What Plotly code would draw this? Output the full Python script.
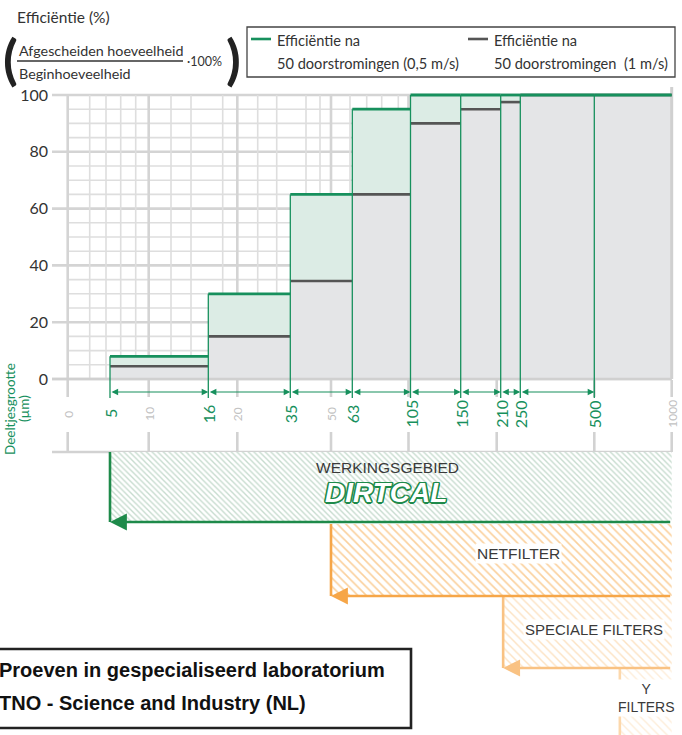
import numpy as np
import plotly.graph_objects as go

# ---------------- data ----------------
bin_edges = [5, 16, 35, 63, 105, 150, 210, 250, 500, 1000]          # particle size (µm)
eff_05 = [8, 30, 65, 95, 100, 100, 100, 100, 100]                   # 0,5 m/s
eff_1 = [4.5, 15, 34.5, 65, 90, 95, 97.5, 100, 100]                 # 1 m/s
y_ticks = [0, 20, 40, 60, 80, 100]
green_ticks = [5, 16, 35, 63, 105, 150, 210, 250, 500]
gray_labels = [0, 10, 20, 50, 1000]
gray_marks = [0, 10, 20, 50, 100, 200, 500, 1000]
minor_grid = [2, 4, 6, 8, 12, 14, 18, 25, 30, 40, 45, 60, 70, 80, 90]
major_grid = [0, 10, 20, 50, 100]
filter_names = ["DIRTCAL", "NETFILTER", "SPECIALE FILTERS", "Y FILTERS"]
filter_start = [5, 50, 215, 665]
filter_end = [1000, 1000, 1000, 1000]

# ---------------- layout / scale ----------------
W, H = 682, 735
# hand-drawn (non-uniform) size axis of the original: value -> horizontal unit
SCALE_VAL = [0, 2, 4, 5, 6, 8, 10, 12, 14, 16, 18, 20, 25, 30, 35, 40, 45, 50,
             60, 63, 70, 80, 90, 100, 105, 150, 200, 210, 250, 500, 1000]
SCALE_POS = [67.7, 89.7, 106, 110, 120.7, 135.7, 148.7, 171, 191, 208.3, 222.7,
             237.3, 257.7, 276.7, 290.3, 306, 320, 331, 350, 352.3, 366.7, 381.7,
             398.3, 408.5, 410.5, 460.7, 496.7, 500.7, 520.3, 594.3, 671.7]


def ux(v):
    return float(np.interp(v, SCALE_VAL, SCALE_POS))


Y0, Y100 = 379.0, 95.0
K = (Y0 - Y100) / 100.0


def eff_of(px):
    return (Y0 - px) / K


GREEN = "#17905d"
GREEN_FILL = "#dcece5"
GRAY_FILL = "#e4e5e7"
GRAY_LINE = "#555555"
GRID = "#dedede"
GRID_MAJ = "#d4d4d4"
TXT = "#333333"
FONT = "Lato"

fig = go.Figure()
shapes = []
ann = []

# grid
for v in range(0, 101, 5):
    major = v % 20 == 0
    shapes.append(dict(type="line", xref="x", yref="y", layer="below",
                       x0=52 if major else ux(0), x1=ux(1000), y0=v, y1=v,
                       line=dict(color=GRID_MAJ if major else GRID, width=2.6 if major else 1.6)))
for v in minor_grid:
    shapes.append(dict(type="line", xref="x", yref="y", layer="below",
                       x0=ux(v), x1=ux(v), y0=0, y1=100, line=dict(color=GRID, width=1.6)))
for v in major_grid:
    shapes.append(dict(type="line", xref="x", yref="y", layer="below",
                       x0=ux(v), x1=ux(v), y0=0, y1=100, line=dict(color=GRID_MAJ, width=2.6)))

# tick marks under the chart
for v in gray_marks:
    for a, b in [(380, 397), (432, 452)]:
        shapes.append(dict(type="line", xref="x", yref="y2", layer="below",
                           x0=ux(v), x1=ux(v), y0=a, y1=b, line=dict(color="#d2d2d2", width=2.6)))
shapes.append(dict(type="line", xref="x", yref="y2", layer="below",
                   x0=52, x1=ux(1000), y0=452, y1=452, line=dict(color="#d2d2d2", width=2.6)))

# step fills
xs = [ux(e) for e in bin_edges]
fig.add_trace(go.Scatter(x=xs, y=eff_1 + [eff_1[-1]], mode="lines", line=dict(width=0, shape="hv"),
                         fill="tozeroy", fillcolor=GRAY_FILL, hoverinfo="skip", showlegend=False))
fig.add_trace(go.Scatter(x=xs, y=eff_05 + [eff_05[-1]], mode="lines", line=dict(width=0, shape="hv"),
                         fill="tonexty", fillcolor=GREEN_FILL, hoverinfo="skip", showlegend=False))

# baseline and right border
fig.add_trace(go.Scatter(x=[52, ux(1000)], y=[0, 0], mode="lines", line=dict(color="#d0d0d0", width=2.6),
                         hoverinfo="skip", showlegend=False))
fig.add_trace(go.Scatter(x=[ux(1000), ux(1000)], y=[0, eff_of(87)], mode="lines",
                         line=dict(color="#d0d0d0", width=3), hoverinfo="skip", showlegend=False))

# horizontal step lines
gx, gy = [], []
for i, v in enumerate(eff_1):
    gx += [ux(bin_edges[i]), ux(bin_edges[i + 1]), None]
    gy += [v, v, None]
fig.add_trace(go.Scatter(x=gx, y=gy, mode="lines", line=dict(color=GRAY_LINE, width=2.6),
                         hoverinfo="skip", showlegend=False))

# vertical green boundary lines
vx, vy = [], []
low = eff_of(398)
for i, e in enumerate(bin_edges[:-1]):
    top = max(eff_05[i], eff_05[i - 1] if i > 0 else 0)
    vx += [ux(e), ux(e), None]
    vy += [top, low, None]
fig.add_trace(go.Scatter(x=vx, y=vy, mode="lines", line=dict(color=GREEN, width=1.3),
                         hoverinfo="skip", showlegend=False))

hx, hy = [], []
for i, v in enumerate(eff_05):
    hx += [ux(bin_edges[i]), ux(bin_edges[i + 1]), None]
    hy += [v, v, None]
fig.add_trace(go.Scatter(x=hx, y=hy, mode="lines", line=dict(color=GREEN, width=2.8),
                         hoverinfo="skip", showlegend=False))

# double arrows between boundaries
ya = eff_of(392)
for a, b in zip(bin_edges[:-2], bin_edges[1:-1]):
    ann.append(dict(x=ux(b), y=ya, ax=ux(a), ay=ya, xref="x", yref="y", axref="x", ayref="y",
                    text="", showarrow=True, arrowhead=2, arrowside="end+start",
                    arrowsize=1.1, arrowwidth=1.2, arrowcolor=GREEN))

# size labels
for v in green_ticks:
    ann.append(dict(x=ux(v), y=414, xref="x", yref="y2", text=str(v), showarrow=False,
                    textangle=-90, font=dict(family=FONT, size=16, color=GREEN)))
for v in gray_labels:
    ann.append(dict(x=ux(v), y=414, xref="x", yref="y2", text=str(v), showarrow=False,
                    textangle=-90, font=dict(family=FONT, size=12, color="#c2c2c2")))
ann.append(dict(x=10, y=409, xref="x", yref="y2", text="Deeltjesgrootte", showarrow=False,
                textangle=-90, font=dict(family=FONT, size=13.5, color=GREEN)))
ann.append(dict(x=24, y=409, xref="x", yref="y2", text="(µm)", showarrow=False,
                textangle=-90, font=dict(family=FONT, size=13.5, color=GREEN)))

# filter ranges
box_y = [(452, 522), (524, 596), (597, 668), (669, 740)]
hatch_fg = ["#8db79d", "#f5a23a", "#f9c585", "#fcdcb4"]
border = ["#1e8a4a", "#f6a648", "#f9c283", "#fcd8ac"]
hatch_size = [4, 6, 6, 6]
hatch_sol = [0.34, 0.27, 0.24, 0.24]
for i in range(len(filter_names)):
    x0, x1 = ux(filter_start[i]), ux(filter_end[i])
    y0, y1 = box_y[i]
    fig.add_trace(go.Scatter(x=[x0, x1, x1, x0, x0], y=[y0, y0, y1, y1, y0], yaxis="y2",
                             mode="lines", line=dict(width=0), fill="toself",
                             fillcolor="white",
                             fillpattern=dict(shape="\\", fgcolor=hatch_fg[i], bgcolor="white",
                                              size=hatch_size[i], solidity=hatch_sol[i]),
                             hoverinfo="skip", showlegend=False))
    shapes.append(dict(type="line", xref="x", yref="y2", x0=x0, x1=x0, y0=y0, y1=y1,
                       line=dict(color=border[i], width=2.6)))
    ann.append(dict(x=x0, y=y1, ax=x1, ay=y1, xref="x", yref="y2", axref="x", ayref="y2",
                    text="", showarrow=True, arrowhead=2, arrowsize=1.3, arrowwidth=2.6,
                    arrowcolor=border[i]))

LAB = "Liberation Sans"
ann.append(dict(x=387, y=467, xref="x", yref="y2", text="WERKINGSGEBIED", showarrow=False,
                borderpad=0, font=dict(family=LAB, size=15.5, color="#3a3a3a")))
sh = ", ".join(f"{dx}px {dy}px 0 #1e8a4a" for dx, dy in
               [(1.5, 0), (-1.5, 0), (0, 1.5), (0, -1.5), (1.2, 1.2), (-1.2, -1.2), (1.2, -1.2), (-1.2, 1.2)])
ann.append(dict(x=386, y=492, xref="x", yref="y2", text=filter_names[0], showarrow=False,
                borderpad=0, font=dict(family=LAB, size=28, color="white", weight="bold",
                                       style="italic", shadow=sh)))
ann.append(dict(x=518, y=553, xref="x", yref="y2", text=filter_names[1], showarrow=False,
                bgcolor="white", font=dict(family=LAB, size=15.5, color="#3a3a3a")))
ann.append(dict(x=594, y=629, xref="x", yref="y2", text=filter_names[2], showarrow=False,
                bgcolor="white", font=dict(family=LAB, size=15, color="#3a3a3a")))
ann.append(dict(x=646, y=698, xref="x", yref="y2", text="Y<br>FILTERS", showarrow=False,
                bgcolor="white", font=dict(family=LAB, size=14, color="#3a3a3a")))

# TNO box
shapes.append(dict(type="rect", xref="x", yref="y2", x0=-5, x1=411, y0=649, y1=728,
                   line=dict(color="#222222", width=2.6), fillcolor="white"))
ann.append(dict(x=0, y=670, xref="x", yref="y2", xanchor="left", xshift=-3,
                text="<b>Proeven in gespecialiseerd laboratorium</b>", showarrow=False,
                font=dict(family=LAB, size=20, color="#111111")))
ann.append(dict(x=0, y=703, xref="x", yref="y2", xanchor="left", xshift=-3,
                text="<b>TNO - Science and Industry (NL)</b>", showarrow=False,
                font=dict(family=LAB, size=20, color="#111111")))

# header
ann.append(dict(x=15, y=17, xref="x", yref="y2", xanchor="left", text="Efficiëntie (%)",
                showarrow=False, font=dict(family=FONT, size=15.5, color=TXT)))
ann.append(dict(x=10, y=58, xref="x", yref="y2", text="(", showarrow=False,
                font=dict(family=FONT, size=54, color="#222222", weight="bold")))
ann.append(dict(x=233, y=58, xref="x", yref="y2", text=")", showarrow=False,
                font=dict(family=FONT, size=54, color="#222222", weight="bold")))
ann.append(dict(x=17, y=50, xref="x", yref="y2", xanchor="left", text="Afgescheiden hoeveelheid",
                showarrow=False, font=dict(family=FONT, size=14.3, color=TXT)))
ann.append(dict(x=17, y=73, xref="x", yref="y2", xanchor="left", text="Beginhoeveelheid",
                showarrow=False, font=dict(family=FONT, size=14.3, color=TXT)))
ann.append(dict(x=185, y=61, xref="x", yref="y2", xanchor="left", text="·100%",
                showarrow=False, font=dict(family=FONT, size=12.5, color=TXT)))
shapes.append(dict(type="line", xref="x", yref="y2", x0=17, x1=183, y0=61, y1=61,
                   line=dict(color="#333333", width=1.3)))

# legend box
shapes.append(dict(type="rect", xref="x", yref="y2", x0=247, x1=675, y0=27, y1=77,
                   line=dict(color="#444444", width=1.3)))
shapes.append(dict(type="line", xref="x", yref="y2", x0=251, x1=271, y0=39, y1=39,
                   line=dict(color=GREEN, width=2.6)))
shapes.append(dict(type="line", xref="x", yref="y2", x0=468, x1=488, y0=39, y1=39,
                   line=dict(color=GRAY_LINE, width=2.6)))
for xx, l2 in [(275, "50 doorstromingen (0,5 m/s)"), (492, "50 doorstromingen  (1 m/s)")]:
    ann.append(dict(x=xx, y=40, xref="x", yref="y2", xanchor="left", text="Efficiëntie na",
                    showarrow=False, font=dict(family=FONT, size=14.6, color=TXT)))
    ann.append(dict(x=xx, y=63, xref="x", yref="y2", xanchor="left", text=l2,
                    showarrow=False, font=dict(family=FONT, size=14.6, color=TXT)))

fig.update_layout(
    width=W, height=H, margin=dict(l=0, r=0, t=0, b=0),
    paper_bgcolor="white", plot_bgcolor="white", showlegend=False,
    shapes=shapes, annotations=ann,
    xaxis=dict(range=[0, W], domain=[0, 1], visible=False, fixedrange=True),
    yaxis=dict(range=[eff_of(H), eff_of(0)], domain=[0, 1], tickvals=y_ticks,
               showgrid=False, zeroline=False, showline=False, ticks="",
               anchor="free", position=52 / W, ticklabelstandoff=4,
               tickfont=dict(family=FONT, size=16, color=TXT), fixedrange=True),
    yaxis2=dict(range=[H, 0], domain=[0, 1], overlaying="y", visible=False, fixedrange=True),
)

fig.write_html("out.html", config={"displayModeBar": False},
               post_script="document.body.style.margin='0';document.body.style.overflow='hidden';")
